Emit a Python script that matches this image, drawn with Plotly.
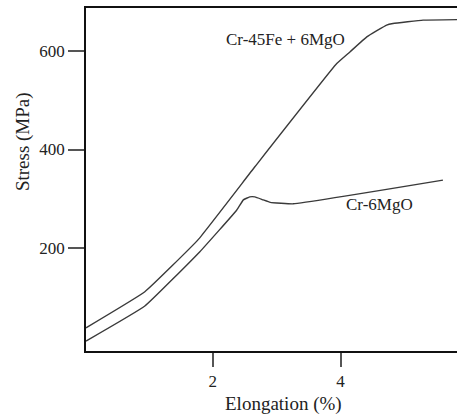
import plotly.graph_objects as go

# Data
fe_x = [0.02, 0.94, 1.77, 2.66, 3.94, 4.15, 4.41, 4.72, 4.82, 5.29, 5.82]
fe_y = [39, 112, 217, 365, 574, 598, 628, 652, 655, 662, 663]

mgo_x = [0.02, 0.94, 1.80, 2.375, 2.48, 2.58, 2.66, 2.79, 2.90, 3.26, 5.60]
mgo_y = [12, 83, 193, 277, 298, 304, 304, 298, 293, 290, 338]

x_ticks = [2, 4]
y_ticks = [200, 400, 600]

series_names = ["Cr-45Fe + 6MgO", "Cr-6MgO"]

FONT = "Liberation Serif"
LINE = "#3a3a3a"

fig = go.Figure()
fig.add_trace(go.Scatter(x=fe_x, y=fe_y, mode="lines", name=series_names[0],
                         line=dict(color=LINE, width=1.4, shape="spline", smoothing=0.3)))
fig.add_trace(go.Scatter(x=mgo_x, y=mgo_y, mode="lines", name=series_names[1],
                         line=dict(color=LINE, width=1.4, shape="spline", smoothing=0.3)))

fig.update_layout(
    width=457, height=414,
    margin=dict(l=86, r=0, t=8, b=63),
    paper_bgcolor="white", plot_bgcolor="white",
    showlegend=False,
    font=dict(family=FONT, size=17, color="#222"),
    xaxis=dict(range=[0.02, 5.82], tickvals=x_ticks, ticks="outside", ticklen=14,
               tickwidth=2, tickcolor="#555", showgrid=False, zeroline=False,
               showline=True, linecolor="#111", linewidth=1.5, mirror=True,
               tickfont=dict(family=FONT, size=17, color="#222")),
    yaxis=dict(range=[-8, 686.5], tickvals=y_ticks, ticks="outside", ticklen=16,
               tickwidth=2, tickcolor="#555", showgrid=False, zeroline=False,
               showline=True, linecolor="#111", linewidth=1.5, mirror=False,
               tickfont=dict(family=FONT, size=17, color="#222")),
    annotations=[
        dict(text="Elongation (%)", xref="paper", yref="paper", x=0.531, y=-0.1545,
             xanchor="center", yanchor="middle", showarrow=False,
             font=dict(family=FONT, size=19, color="#222")),
        dict(text="Stress (MPa)", xref="paper", yref="paper", x=-0.1698, y=0.609,
             xanchor="center", yanchor="middle", showarrow=False, textangle=-90,
             font=dict(family=FONT, size=19, color="#222")),
        dict(text=series_names[0], x=3.145, y=622, xanchor="center", yanchor="middle",
             showarrow=False, font=dict(family=FONT, size=17, color="#222")),
        dict(text=series_names[1], x=4.61, y=288, xanchor="center", yanchor="middle",
             showarrow=False, font=dict(family=FONT, size=17, color="#222")),
    ],
)

fig.write_html("out.html", config={"displayModeBar": False},
               post_script="document.body.style.margin='0';document.body.style.overflow='hidden';")
